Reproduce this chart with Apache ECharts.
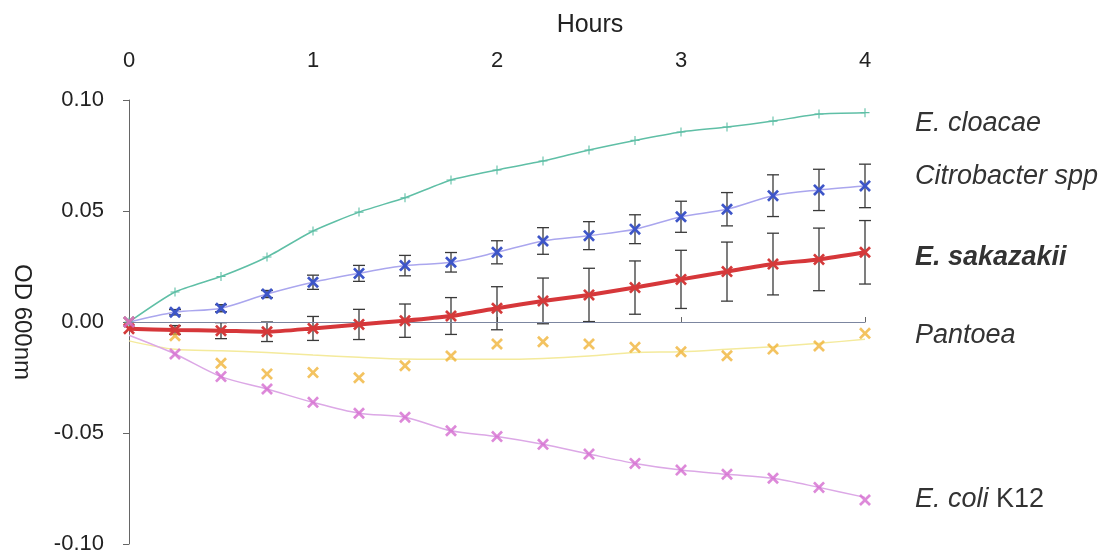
<!DOCTYPE html>
<html><head><meta charset="utf-8">
<script src="https://cdn.jsdelivr.net/npm/echarts@6/dist/echarts.min.js"></script>
<style>html,body{margin:0;padding:0;background:#fff}#c{width:1110px;height:555px}</style>
</head><body><div id="c"></div>
<script>
const hours = [0,0.25,0.5,0.75,1,1.25,1.5,1.75,2,2.25,2.5,2.75,3,3.25,3.5,3.75,4];
const xTicks = [0,1,2,3,4];
const yTicks = [-0.10,-0.05,0.00,0.05,0.10];

const cloacae = [0,0.0135,0.0205,0.0293,0.0410,0.0495,0.0560,0.0640,0.0685,0.0725,0.0775,0.0818,0.0856,0.0878,0.0905,0.0937,0.0943];
const citro = [0,0.0044,0.0062,0.0126,0.0179,0.0219,0.0254,0.0269,0.0314,0.0365,0.0389,0.0418,0.0474,0.0508,0.0569,0.0595,0.0613];
const citroErr = [0,0.0012,0.0016,0.0016,0.0032,0.0036,0.0046,0.0044,0.0052,0.0060,0.0063,0.0065,0.0070,0.0075,0.0094,0.0093,0.0098];
const sak = [-0.0030,-0.0036,-0.0039,-0.0044,-0.0029,-0.0011,0.0006,0.0027,0.0062,0.0095,0.0122,0.0155,0.0192,0.0227,0.0261,0.0282,0.0314];
const sakErr = [0,0.0020,0.0036,0.0044,0.0054,0.0068,0.0075,0.0083,0.0097,0.0103,0.0120,0.0120,0.0131,0.0133,0.0139,0.0141,0.0143];
const pantoeaLine = [-0.0085,-0.0123,-0.0129,-0.0137,-0.0149,-0.0159,-0.0167,-0.0168,-0.0168,-0.0164,-0.0153,-0.0137,-0.0134,-0.0123,-0.0111,-0.0096,-0.0078];
const pantoeaPts = [0,-0.0062,-0.0186,-0.0234,-0.0228,-0.0251,-0.0197,-0.0153,-0.0099,-0.0089,-0.0099,-0.0114,-0.0134,-0.0152,-0.0122,-0.0108,-0.0051];
const ecoliLine = [-0.0060,-0.0144,-0.0246,-0.0302,-0.0362,-0.0411,-0.0429,-0.0490,-0.0516,-0.0551,-0.0595,-0.0637,-0.0667,-0.0686,-0.0704,-0.0745,-0.0790];
const ecoliPts = [0,-0.0144,-0.0246,-0.0302,-0.0362,-0.0411,-0.0429,-0.0490,-0.0516,-0.0551,-0.0595,-0.0637,-0.0667,-0.0686,-0.0704,-0.0745,-0.0802];

const FONT = 'Liberation Sans, Arial, sans-serif';
const XSYM = 'path://M0,1.6 L1.6,0 L5,3.4 L8.4,0 L10,1.6 L6.6,5 L10,8.4 L8.4,10 L5,6.6 L1.6,10 L0,8.4 L3.4,5 Z';
const PSYM = 'path://M4.4,0 H5.6 V4.4 H10 V5.6 H5.6 V10 H4.4 V5.6 H0 V4.4 H4.4 Z';

const pairs = arr => hours.map((h,i)=>[h,arr[i]]);
const errData = (v,e) => hours.map((h,i)=>[h,v[i],e[i]]).filter(d=>d[2]>0);

function errRender(params, api){
  const x = api.value(0), y = api.value(1), e = api.value(2);
  const t = api.coord([x, y+e]), b = api.coord([x, y-e]);
  const hw = 6;
  const st = {stroke:'#3a3a3a', lineWidth:1.3};
  return {type:'group', children:[
    {type:'line', shape:{x1:t[0],y1:t[1],x2:b[0],y2:b[1]}, style:st},
    {type:'line', shape:{x1:t[0]-hw,y1:t[1],x2:t[0]+hw,y2:t[1]}, style:st},
    {type:'line', shape:{x1:b[0]-hw,y1:b[1],x2:b[0]+hw,y2:b[1]}, style:st}
  ]};
}

const lbl = (text, dy, extra) => Object.assign({
  show:true, formatter:text, offset:[42,dy], fontSize:27, fontStyle:'italic',
  color:'#333', fontFamily:FONT, align:'left'
}, extra||{});

const chart = echarts.init(document.getElementById('c'));
chart.setOption({
  animation:false,
  backgroundColor:'#fff',
  grid:{left:129, right:245, top:100, bottom:11},
  xAxis:{
    type:'value', position:'top', min:xTicks[0], max:xTicks[xTicks.length-1], interval:1,
    axisLine:{show:true, lineStyle:{color:'#666', width:1}},
    axisTick:{show:true, length:5, lineStyle:{color:'#666'}},
    splitLine:{show:false},
    axisLabel:{fontSize:22, color:'#222', margin:28, fontFamily:FONT},
    name:'Hours', nameLocation:'middle', nameGap:62,
    nameTextStyle:{fontSize:25, color:'#222', fontFamily:FONT, padding:[0,0,0,186]}
  },
  yAxis:{
    type:'value', min:yTicks[0], max:yTicks[yTicks.length-1], interval:0.05,
    axisLine:{show:true, lineStyle:{color:'#666', width:1}},
    axisTick:{show:true, length:6, lineStyle:{color:'#666'}},
    splitLine:{show:false},
    axisLabel:{fontSize:22, color:'#222', margin:25, fontFamily:FONT,
      formatter:v=>(Math.abs(v)<1e-9?0:v).toFixed(2)},
    name:'OD 600nm', nameLocation:'middle', nameRotate:-90, nameGap:95,
    nameTextStyle:{fontSize:24, color:'#222', fontFamily:FONT}
  },
  series:[
    {type:'line', data:pairs(cloacae), smooth:0.2, symbol:PSYM, symbolSize:9,
     lineStyle:{color:'#5fbfa6', width:1.5}, itemStyle:{color:'#5fbfa6'},
     endLabel:lbl('E. cloacae', 11), z:3,
     markLine:{silent:true, symbol:'none', label:{show:false},
       lineStyle:{color:'#7c86a0', width:1, type:'solid'}, data:[{yAxis:0}]}},
    {type:'custom', renderItem:errRender, data:errData(citro,citroErr), encode:{x:0,y:1}, z:2},
    {type:'line', data:pairs(citro), smooth:0.3, symbol:XSYM, symbolSize:12,
     lineStyle:{color:'#aaa6ee', width:1.5}, itemStyle:{color:'#3d55c8'},
     endLabel:lbl('Citrobacter spp', -9), z:3},
    {type:'line', data:pairs(pantoeaLine), smooth:0.3, showSymbol:false, symbol:'none',
     lineStyle:{color:'#f4ea9c', width:1.5}, itemStyle:{color:'#f4ea9c'},
     endLabel:lbl('Pantoea', -4), z:3},
    {type:'scatter', data:pairs(pantoeaPts), symbol:XSYM, symbolSize:12,
     itemStyle:{color:'#f0b43a'}, z:4},
    {type:'line', data:pairs(ecoliLine), smooth:0.3, showSymbol:false, symbol:'none',
     lineStyle:{color:'#dca8e6', width:1.5}, itemStyle:{color:'#dca8e6'},
     endLabel:lbl('{i|E. coli} K12', 2, {fontStyle:'normal',
       rich:{i:{fontStyle:'italic', fontSize:27, color:'#333', fontFamily:FONT}}}), z:3},
    {type:'scatter', data:pairs(ecoliPts), symbol:XSYM, symbolSize:12,
     itemStyle:{color:'#d46bd0'}, z:6},
    {type:'custom', renderItem:errRender, data:errData(sak,sakErr), encode:{x:0,y:1}, z:4},
    {type:'line', data:pairs(sak), smooth:0.2, symbol:XSYM, symbolSize:12,
     lineStyle:{color:'#d6373a', width:4}, itemStyle:{color:'#d43a3a'},
     endLabel:lbl('E. sakazakii', 5, {fontWeight:'bold'}), z:5}
  ]
});
</script>
</body></html>
